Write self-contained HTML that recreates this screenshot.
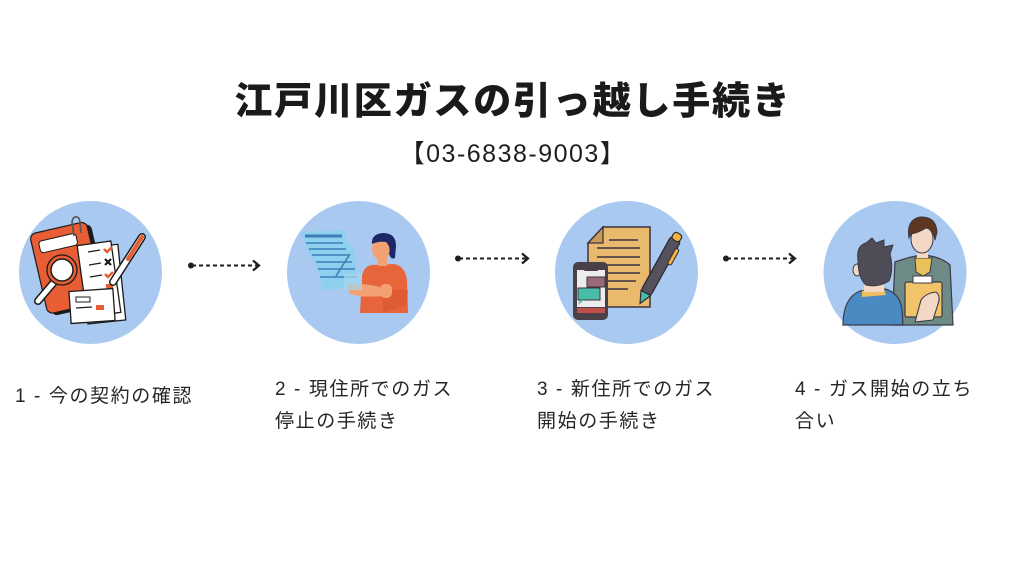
<!DOCTYPE html>
<html>
<head>
<meta charset="utf-8">
<style>
  html,body{margin:0;padding:0;background:#fff;}
  body{width:1024px;height:576px;position:relative;overflow:hidden;
       font-family:"Liberation Sans","Noto Sans CJK JP",sans-serif;color:#1e1e1e;}
  .t{position:absolute;white-space:nowrap;}
  #title{left:0;width:1026px;text-align:center;top:79px;font-size:38px;line-height:38px;
         font-weight:900;letter-spacing:1.8px;color:#1a1a1a;
         font-family:"Noto Sans CJK JP","Liberation Sans",sans-serif;}
  #phone{left:0;width:1026px;text-align:center;top:142px;font-size:25px;line-height:25px;
         font-weight:500;letter-spacing:1.5px;color:#1e1e1e;}
  .lab{font-size:19px;line-height:32px;letter-spacing:1.6px;color:#262626;}
  svg{position:absolute;left:0;top:0;}
</style>
</head>
<body>
<svg width="1024" height="576" viewBox="0 0 1024 576">
  <defs>
    <clipPath id="c4"><circle cx="895" cy="272" r="71"/></clipPath>
  </defs>
  <!-- circles -->
  <circle cx="90.5" cy="272.5" r="71.5" fill="#a9c9f1"/>
  <circle cx="358.5" cy="272.5" r="71.5" fill="#a9c9f1"/>
  <circle cx="626.5" cy="272.5" r="71.5" fill="#a9c9f1"/>
  <circle cx="895" cy="272.5" r="71.5" fill="#a9c9f1"/>

  <!-- arrows -->
  <g stroke="#1e1e1e" fill="none" stroke-width="2">
    <line x1="192" y1="265.5" x2="257" y2="265.5" stroke-dasharray="4 3"/>
    <polyline points="253,260.5 259,265.5 253,270.5" stroke-width="2.2"/>
    <line x1="459" y1="258.5" x2="527" y2="258.5" stroke-dasharray="4 3"/>
    <polyline points="522,253.5 528,258.5 522,263.5" stroke-width="2.2"/>
    <line x1="727" y1="258.5" x2="794" y2="258.5" stroke-dasharray="4 3"/>
    <polyline points="789,253.5 795,258.5 789,263.5" stroke-width="2.2"/>
  </g>
  <circle cx="191" cy="265.5" r="3" fill="#1e1e1e"/>
  <circle cx="458" cy="258.5" r="3" fill="#1e1e1e"/>
  <circle cx="726" cy="258.5" r="3" fill="#1e1e1e"/>

  <!-- ICON 1 -->
  <g>
    <g transform="rotate(-13 66 268)">
      <rect x="42" y="230" width="58" height="82" rx="6" fill="#1b1b1b"/>
      <rect x="38" y="227" width="58" height="82" rx="6" fill="#e85d33" stroke="#1b1b1b" stroke-width="1.2"/>
      <rect x="45" y="236" width="38" height="12" rx="3" fill="#fff" stroke="#1b1b1b" stroke-width="1"/>
    </g>
    <path d="M74 236 L72 222 Q73 216 77 217 Q80 218 80 223 L81 233" fill="none" stroke="#555" stroke-width="1.6"/>
    <g transform="rotate(-6 104 285)">
      <rect x="84" y="246" width="38" height="76" fill="#fff" stroke="#1b1b1b" stroke-width="1.3"/>
    </g>
    <rect x="82" y="243" width="34" height="72" fill="#fff" stroke="#1b1b1b" stroke-width="1.3" transform="rotate(-8 99 279)"/>
    <g stroke="#1b1b1b" stroke-width="1.3">
      <line x1="88" y1="252" x2="100" y2="250"/>
      <line x1="89" y1="265" x2="101" y2="263"/>
      <line x1="90" y1="277" x2="102" y2="275"/>
    </g>
    <path d="M104 249 l3 3 l5 -5" stroke="#e85d33" stroke-width="2.5" fill="none"/>
    <path d="M105 259 l6 6 M111 259 l-6 6" stroke="#1b1b1b" stroke-width="2.2" fill="none"/>
    <path d="M105 274 l3 3 l5 -5" stroke="#e85d33" stroke-width="2.5" fill="none"/>
    <rect x="106" y="284" width="7" height="6" fill="#e85d33"/>
    <rect x="70" y="290" width="44" height="32" fill="#fff" stroke="#1b1b1b" stroke-width="1.3" transform="rotate(-4 92 306)"/>
    <rect x="76" y="297" width="14" height="5" fill="#fff" stroke="#1b1b1b" stroke-width="1"/>
    <line x1="76" y1="308" x2="92" y2="307" stroke="#1b1b1b" stroke-width="1.2"/>
    <rect x="96" y="305" width="8" height="5" fill="#e85d33"/>
    <line x1="55" y1="281" x2="38" y2="301" stroke="#1b1b1b" stroke-width="8" stroke-linecap="round"/>
    <line x1="55" y1="281" x2="38" y2="301" stroke="#fff" stroke-width="5" stroke-linecap="round"/>
    <circle cx="62" cy="270" r="15" fill="#e85d33" stroke="#1b1b1b" stroke-width="1.3"/>
    <circle cx="62" cy="270" r="11" fill="#fff" stroke="#1b1b1b" stroke-width="1.5"/>
    <line x1="142" y1="237" x2="113" y2="282" stroke="#1b1b1b" stroke-width="8" stroke-linecap="round"/>
    <line x1="142" y1="237" x2="113" y2="282" stroke="#fff" stroke-width="5" stroke-linecap="round"/>
    <line x1="142" y1="237" x2="128" y2="259" stroke="#e85d33" stroke-width="4" stroke-linecap="round"/>
  </g>

  <!-- ICON 2 -->
  <g>
    <path d="M301 232 L344 230 Q345 240 352 246 Q357 256 356 268 L363 287 L322 290 Q320 272 314 262 Q306 250 301 232 Z" fill="#8fd0ef"/>
    <g stroke="#3c7fb8" stroke-width="1.6">
      <line x1="305" y1="236" x2="342" y2="236" stroke-width="3"/>
      <line x1="306" y1="243" x2="343" y2="243"/>
      <line x1="309" y1="249" x2="346" y2="249"/>
      <line x1="312" y1="255" x2="350" y2="255"/>
      <line x1="316" y1="262" x2="352" y2="262"/>
      <line x1="318" y1="269" x2="355" y2="269"/>
      <line x1="320" y1="277" x2="357" y2="277"/>
      <line x1="350" y1="254" x2="336" y2="276"/>
    </g>
    <path d="M372 265 Q364 266 362 276 L360 313 L408 313 L407 280 Q405 266 394 264 Z" fill="#e8643a"/>
    <path d="M383 290 L408 290 L407 305 L383 313 Z" fill="#d9552e" opacity="0.6"/>
    <path d="M347 285 Q360 282 380 287 L384 296 Q362 298 350 294 Z" fill="#f2a272"/>
    <rect x="380" y="284" width="12" height="14" rx="5" fill="#f2a272"/>
    <rect x="344" y="274" width="18" height="16" fill="#a8d6ee" opacity="0.7"/>
    <rect x="378" y="255" width="9" height="11" fill="#f2a272"/>
    <ellipse cx="381" cy="249" rx="9" ry="11" fill="#f2a272"/>
    <path d="M372 244 Q371 234 383 233 Q396 233 396 246 L395 258 Q391 260 389 254 Q391 247 386 242 Q379 241 372 244 Z" fill="#1f2866"/>
  </g>

  <!-- ICON 3 -->
  <g>
    <path d="M603 227 L650 227 L650 307 L588 307 L588 243 Z" fill="#e9b96e" stroke="#3b3340" stroke-width="1.5"/>
    <path d="M603 227 L603 243 L588 243 Z" fill="#c99a55" stroke="#3b3340" stroke-width="1.3"/>
    <g stroke="#3b3340" stroke-width="1.5">
      <line x1="609" y1="240" x2="638" y2="240"/>
      <line x1="597" y1="248" x2="640" y2="248"/>
      <line x1="597" y1="257" x2="640" y2="257"/>
      <line x1="597" y1="265" x2="640" y2="265"/>
      <line x1="608" y1="273" x2="640" y2="273"/>
      <line x1="608" y1="281" x2="636" y2="281"/>
      <line x1="608" y1="289" x2="628" y2="289"/>
    </g>
    <rect x="573" y="262" width="35" height="58" rx="5" fill="#4a4148"/>
    <rect x="577" y="270" width="28" height="37" fill="#ececec"/>
    <rect x="584" y="268" width="14" height="3" rx="1" fill="#4a4148"/>
    <rect x="587" y="277" width="18" height="10" fill="#9b6a78" stroke="#3b3340" stroke-width="1"/>
    <rect x="578" y="288" width="22" height="12" fill="#47bda8" stroke="#3b3340" stroke-width="1"/>
    <path d="M580 300 L578 305 L584 300 Z" fill="#47bda8"/>
    <rect x="577" y="308" width="28" height="5" fill="#c24e4a"/>
    <g transform="rotate(29 658 270)">
      <rect x="653" y="234" width="11" height="62" rx="3" fill="#55525d" stroke="#2d2a33" stroke-width="1.3"/>
      <rect x="654" y="228" width="9" height="8" rx="3" fill="#f0b43c" stroke="#2d2a33" stroke-width="1.2"/>
      <rect x="663" y="242" width="4" height="18" rx="2" fill="#f0b43c" stroke="#2d2a33" stroke-width="1"/>
      <path d="M653 296 L664 296 L658.5 308 Z" fill="#47bda8" stroke="#2d2a33" stroke-width="1.2"/>
    </g>
  </g>

  <!-- ICON 4 -->
  <g>
    <path d="M895 262 Q912 256 922 255 Q940 256 950 265 L953 325 L892 325 Z" fill="#6e8a87" stroke="#3a3a44" stroke-width="1.2"/>
    <path d="M915 258 L932 258 L930 272 L923 276 L916 272 Z" fill="#e8c15a" stroke="#3a3a44" stroke-width="1"/>
    <rect x="917" y="248" width="11" height="10" fill="#f4d8c6"/>
    <ellipse cx="922" cy="239" rx="11" ry="14" fill="#f4d8c6" stroke="#3a3a44" stroke-width="1"/>
    <path d="M909 238 Q906 220 920 217 Q936 216 937 232 L935 240 Q933 229 926 228 Q918 233 911 234 Z" fill="#5f3620" stroke="#3a3a44" stroke-width="1"/>
    <rect x="905" y="282" width="37" height="35" rx="2" fill="#f1c46a" stroke="#3a3a44" stroke-width="1.2"/>
    <rect x="913" y="276" width="19" height="7" fill="#fff" stroke="#3a3a44" stroke-width="1"/>
    <path d="M915 322 L921 300 Q926 293 936 292 Q941 296 938 304 L933 320 Z" fill="#f4d8c6" stroke="#3a3a44" stroke-width="1.1"/>
    <path d="M843 325 Q843 298 860 291 L885 289 Q900 293 902 310 L903 325 Z" fill="#4a89c2" stroke="#3a3a44" stroke-width="1.2"/>
    <path d="M862 291 L884 289 L886 295 L862 297 Z" fill="#f0c060"/>
    <rect x="864" y="280" width="20" height="12" fill="#f4d8c6"/>
    <ellipse cx="857" cy="270" rx="4" ry="6" fill="#f4d8c6" stroke="#3a3a44" stroke-width="1"/>
    <path d="M858 260 Q856 246 866 243 L872 238 L876 243 L884 240 L884 247 L893 245 L890 254 Q894 270 889 281 Q878 288 866 285 Q858 278 858 260 Z" fill="#4d4c57" stroke="#3a3a44" stroke-width="1"/>
  </g>
</svg>

<div class="t" id="title">江戸川区ガスの引っ越し手続き</div>
<div class="t" id="phone">【03-6838-9003】</div>

<div class="t lab" style="left:15px;top:381px;">1 - 今の契約の確認</div>
<div class="t lab" style="left:275px;top:374px;">2 - 現住所でのガス<br>停止の手続き</div>
<div class="t lab" style="left:537px;top:374px;">3 - 新住所でのガス<br>開始の手続き</div>
<div class="t lab" style="left:795px;top:374px;">4 - ガス開始の立ち<br>合い</div>
</body>
</html>
